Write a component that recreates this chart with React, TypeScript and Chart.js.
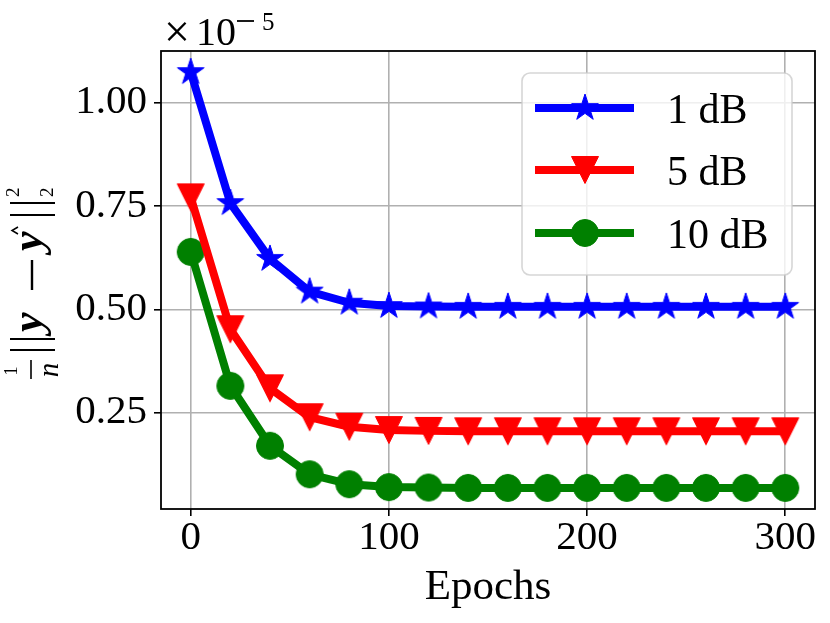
import { useEffect, useRef } from 'react';
import { Chart, registerables } from 'chart.js';

Chart.register(...registerables);

const epochs = [0, 20, 40, 60, 80, 100, 120, 140, 160, 180, 200, 220, 240, 260, 280, 300];
const values1dB = [1.074, 0.757, 0.622, 0.543, 0.516, 0.508, 0.507, 0.506, 0.506, 0.506, 0.506, 0.506, 0.506, 0.506, 0.506, 0.506];
const values5dB = [0.771, 0.452, 0.309, 0.239, 0.216, 0.208, 0.206, 0.205, 0.205, 0.205, 0.205, 0.205, 0.205, 0.205, 0.205, 0.205];
const values10dB = [0.639, 0.315, 0.17, 0.101, 0.077, 0.07, 0.069, 0.068, 0.068, 0.068, 0.068, 0.068, 0.068, 0.068, 0.068, 0.068];
const seriesLabels = ['1 dB', '5 dB', '10 dB'];
const seriesColors = ['#0000ff', '#ff0000', '#008000'];
const seriesMarkers = ['star', 'triangleDown', 'circle'];
const xTicks = [0, 100, 200, 300];
const yTicks = [0.25, 0.5, 0.75, 1.0];
const xLabel = 'Epochs';
const offsetBase = '10';
const offsetExponent = '5';

const FONT = '"Liberation Serif", "DejaVu Serif", serif';

function makeMarker(kind: string, color: string): HTMLCanvasElement {
  const c = document.createElement('canvas');
  c.width = 32;
  c.height = 32;
  const ctx = c.getContext('2d')!;
  const cx = 16;
  const cy = 16;
  const R = 14;
  ctx.fillStyle = color;
  ctx.strokeStyle = color;
  ctx.lineWidth = 1;
  ctx.beginPath();
  if (kind === 'star') {
    const r = R * 0.381966;
    for (let i = 0; i < 10; i++) {
      const rad = i % 2 === 0 ? R : r;
      const a = -Math.PI / 2 + (i * Math.PI) / 5;
      const px = cx + rad * Math.cos(a);
      const py = cy + rad * Math.sin(a);
      if (i === 0) ctx.moveTo(px, py);
      else ctx.lineTo(px, py);
    }
    ctx.closePath();
  } else if (kind === 'triangleDown') {
    ctx.moveTo(cx, cy + 13.5);
    ctx.lineTo(cx - 13.5, cy - 13.5);
    ctx.lineTo(cx + 13.5, cy - 13.5);
    ctx.closePath();
  } else {
    ctx.arc(cx, cy, 13.5, 0, Math.PI * 2);
  }
  ctx.fill();
  ctx.stroke();
  return c;
}

export default function App() {
  const ref = useRef<HTMLCanvasElement | null>(null);

  useEffect(() => {
    document.body.style.margin = '0';
    const canvas = ref.current;
    if (!canvas) return;
    const markers = seriesMarkers.map((m, i) => makeMarker(m, seriesColors[i]));
    const allValues = [values1dB, values5dB, values10dB];

    const framePlugin = {
      id: 'frame',
      afterDatasetsDraw(chart: any) {
        const { ctx, chartArea } = chart;
        ctx.save();
        ctx.strokeStyle = '#000';
        ctx.lineWidth = 1.8;
        ctx.strokeRect(chartArea.left, chartArea.top, chartArea.right - chartArea.left, chartArea.bottom - chartArea.top);
        ctx.restore();
      },
    };

    const textPlugin = {
      id: 'mathText',
      afterDraw(chart: any) {
        const ctx = chart.ctx as CanvasRenderingContext2D;
        ctx.save();
        ctx.fillStyle = '#000';
        ctx.strokeStyle = '#000';
        // offset text  x10^-5
        ctx.textAlign = 'left';
        ctx.textBaseline = 'alphabetic';
        ctx.font = `46px ${FONT}`;
        ctx.fillText('×', 164, 47);
        ctx.font = `40px ${FONT}`;
        ctx.fillText(offsetBase, 196, 45);
        ctx.lineWidth = 1.8;
        ctx.beginPath();
        ctx.moveTo(237, 21);
        ctx.lineTo(254, 21);
        ctx.stroke();
        ctx.font = `25px ${FONT}`;
        ctx.fillText(offsetExponent, 262, 30);

        // y-axis label: 1/n ||y - y^||_2^2
        ctx.translate(0, 380);
        ctx.rotate(-Math.PI / 2);
        ctx.textAlign = 'center';
        ctx.font = `18px ${FONT}`;
        ctx.fillText('1', 9, 17);
        ctx.font = `italic 29px ${FONT}`;
        ctx.fillText('n', 10, 58);
        ctx.lineWidth = 1.6;
        ctx.beginPath();
        ctx.moveTo(1, 31);
        ctx.lineTo(20, 31);
        ctx.stroke();
        ctx.lineWidth = 2;
        const bar = (u: number) => {
          ctx.beginPath();
          ctx.moveTo(u, 10);
          ctx.lineTo(u, 55);
          ctx.stroke();
        };
        bar(30);
        bar(41);
        ctx.textAlign = 'left';
        ctx.font = `bold italic 44px ${FONT}`;
        ctx.fillText('y', 48, 42);
        ctx.lineWidth = 2.4;
        ctx.beginPath();
        ctx.moveTo(90, 32);
        ctx.lineTo(120, 32);
        ctx.stroke();
        ctx.fillText('y', 129, 42);
        ctx.lineWidth = 1.5;
        ctx.beginPath();
        ctx.moveTo(146, 18);
        ctx.lineTo(149.5, 12);
        ctx.lineTo(153, 18);
        ctx.stroke();
        ctx.lineWidth = 2;
        bar(165);
        bar(177);
        ctx.font = `19px ${FONT}`;
        ctx.fillText('2', 183, 19);
        ctx.fillText('2', 183, 53);
        ctx.restore();

        // legend
        ctx.save();
        const lx = 522, ly = 73, lw = 270, lh = 202;
        ctx.beginPath();
        (ctx as any).roundRect(lx, ly, lw, lh, 8);
        ctx.fillStyle = 'rgba(255,255,255,0.8)';
        ctx.fill();
        ctx.strokeStyle = 'rgba(204,204,204,0.8)';
        ctx.lineWidth = 1.6;
        ctx.stroke();
        const rows = [108, 170, 233];
        seriesLabels.forEach((label, i) => {
          const y = rows[i];
          ctx.strokeStyle = seriesColors[i];
          ctx.lineWidth = 8;
          ctx.lineCap = 'butt';
          ctx.beginPath();
          ctx.moveTo(535, y);
          ctx.lineTo(634, y);
          ctx.stroke();
          const m = markers[i];
          ctx.drawImage(m, 585 - m.width / 2, y - m.height / 2);
          ctx.fillStyle = '#000';
          ctx.font = `42px ${FONT}`;
          ctx.textAlign = 'left';
          ctx.textBaseline = 'alphabetic';
          ctx.fillText(label, 667, y + 15);
        });
        ctx.restore();
      },
    };

    const chart = new Chart(canvas, {
      type: 'line',
      data: {
        datasets: allValues.map((vals, i) => ({
          label: seriesLabels[i],
          data: epochs.map((e, j) => ({ x: e, y: vals[j] })),
          borderColor: seriesColors[i],
          backgroundColor: seriesColors[i],
          borderWidth: 8,
          borderJoinStyle: 'round' as const,
          borderCapStyle: 'round' as const,
          pointStyle: markers[i] as any,
          pointRadius: 14,
          pointHoverRadius: 14,
          tension: 0,
          fill: false,
        })),
      },
      options: {
        animation: false,
        responsive: false,
        events: [],
        layout: { padding: { top: 51, right: 15, left: 0, bottom: 0 }, autoPadding: false },
        plugins: {
          legend: { display: false },
          tooltip: { enabled: false },
        },
        scales: {
          x: {
            type: 'linear',
            min: -15,
            max: 315,
            afterBuildTicks: (scale: any) => {
              scale.ticks = xTicks.map((v) => ({ value: v }));
            },
            afterFit: (scale: any) => {
              scale.height = 114;
              scale.paddingLeft = 0;
              scale.paddingRight = 0;
            },
            ticks: {
              callback: (v: any) => String(v),
              color: '#000',
              font: { family: FONT, size: 41, lineHeight: 1 },
              padding: 2,
              maxRotation: 0,
            },
            grid: {
              color: '#b0b0b0',
              lineWidth: 1.6,
              tickColor: '#000',
              tickLength: 7,
              tickWidth: 1.6,
            },
            border: { display: false },
            title: {
              display: true,
              text: xLabel,
              color: '#000',
              font: { family: FONT, size: 43, lineHeight: 1 },
              padding: { top: 0, bottom: 14 },
            },
          },
          y: {
            type: 'linear',
            min: 0.017,
            max: 1.125,
            afterBuildTicks: (scale: any) => {
              scale.ticks = yTicks.map((v) => ({ value: v }));
            },
            afterFit: (scale: any) => {
              scale.width = 161;
              scale.paddingTop = 0;
              scale.paddingBottom = 0;
            },
            ticks: {
              callback: (v: any) => Number(v).toFixed(2),
              color: '#000',
              font: { family: FONT, size: 41, lineHeight: 1 },
              padding: 7,
            },
            grid: {
              color: '#b0b0b0',
              lineWidth: 1.6,
              tickColor: '#000',
              tickLength: 7,
              tickWidth: 1.6,
            },
            border: { display: false },
          },
        },
      },
      plugins: [framePlugin, textPlugin],
    });

    return () => {
      chart.destroy();
    };
  }, []);

  return (
    <div style={{ position: 'absolute', left: 0, top: 0, width: 830, height: 623, background: '#fff' }}>
      <canvas ref={ref} width={830} height={623} style={{ width: 830, height: 623 }} />
    </div>
  );
}
